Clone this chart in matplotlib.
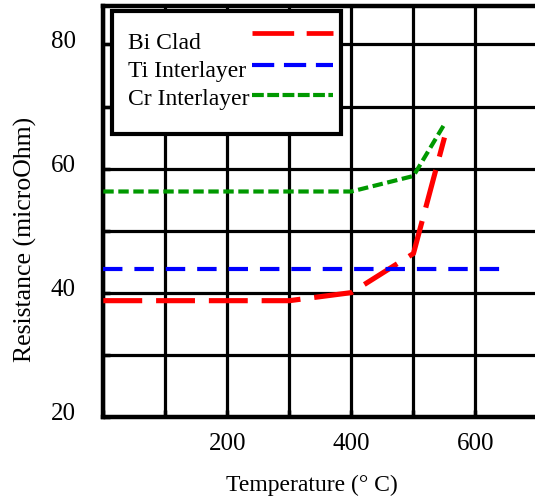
import matplotlib

matplotlib.use("Agg")
import matplotlib.pyplot as plt
from matplotlib.lines import Line2D
from matplotlib.patches import Rectangle
from matplotlib.transforms import ScaledTranslation

# data
bi_temp = [0, 300, 400, 500, 550]
bi_res = [38.7, 38.7, 40.0, 46.3, 65.0]

ti_temp = [0, 650]
ti_res = [43.8, 43.8]

cr_temp = [0, 400, 500, 552]
cr_res = [56.3, 56.3, 58.8, 67.5]

x_ticks = [200, 400, 600]
y_ticks = [20, 40, 60, 80]

series_names = ["Bi Clad", "Ti Interlayer", "Cr Interlayer"]
series_colors = ["#ff0000", "#0000ff", "#009900"]

plt.rcParams["font.family"] = ["Liberation Serif", "DejaVu Serif"]
plt.rcParams["lines.scale_dashes"] = False

W, H = 535, 502
fig = plt.figure(figsize=(W / 100, H / 100), dpi=100)
ax = fig.add_axes([0.1931, 0.168, 0.8116, 0.818])

ax.plot(bi_temp, bi_res, color=series_colors[0], lw=3.7, dashes=(28, 10), zorder=3)
ax.plot(ti_temp, ti_res, color=series_colors[1], lw=3.0, dashes=(14, 8.6), zorder=3)
ax.plot(cr_temp, cr_res, color=series_colors[2], lw=3.0, dashes=(7.5, 3.3), zorder=3)

ax.set_xlim(0, 700)
ax.set_ylim(20, 86.2)

# grid every 100 / 10, labels only on some
ax.set_xticks(range(0, 701, 100))
ax.set_xticklabels([str(v) if v in x_ticks else "" for v in range(0, 701, 100)])
ax.set_yticks(range(20, 90, 10))
ax.set_yticklabels([str(v) if v in y_ticks else "" for v in range(20, 90, 10)])
ax.grid(True, color="black", lw=2.3)
ax.set_axisbelow(True)
ax.tick_params(axis="both", direction="in", length=5, width=2.5, labelsize=18)
ax.tick_params(axis="y", pad=20)
ax.tick_params(axis="x", pad=11)
for s in ax.spines.values():
    s.set_linewidth(3.2)

shift = ScaledTranslation(0, 0.06, fig.dpi_scale_trans)
for lab in ax.get_yticklabels():
    lab.set_transform(lab.get_transform() + shift)

ax.set_xlabel("Temperature (° C)", fontsize=17)
ax.xaxis.set_label_coords(0.48, -0.14)
ax.set_ylabel("Resistance (microOhm)", fontsize=18.5)
ax.yaxis.set_label_coords(-0.152, 0.435)

# legend, laid out by hand (text left, sample line right)
box = Rectangle((112 / W, 1 - 135 / H), 229 / W, 123 / H, transform=fig.transFigure,
                facecolor="white", edgecolor="black", lw=3.0, zorder=5)
fig.patches.append(box)

text_base = [49, 77, 105]
line_y = [34.3, 66.3, 95.7]
leg_dashes = [(30, 9), (16, 7), (8.5, 2.5)]
leg_lw = [3.4, 3.0, 3.0]
for name, col, ty, ly, d, lw in zip(series_names, series_colors, text_base, line_y,
                                    leg_dashes, leg_lw):
    fig.text(128 / W, 1 - ty / H, name, fontsize=17, va="baseline", ha="left", zorder=6)
    fig.add_artist(Line2D([252 / W, 333 / W], [1 - ly / H] * 2, transform=fig.transFigure,
                          color=col, lw=lw, dashes=d, zorder=6))

fig.savefig("out.png", dpi=100)
